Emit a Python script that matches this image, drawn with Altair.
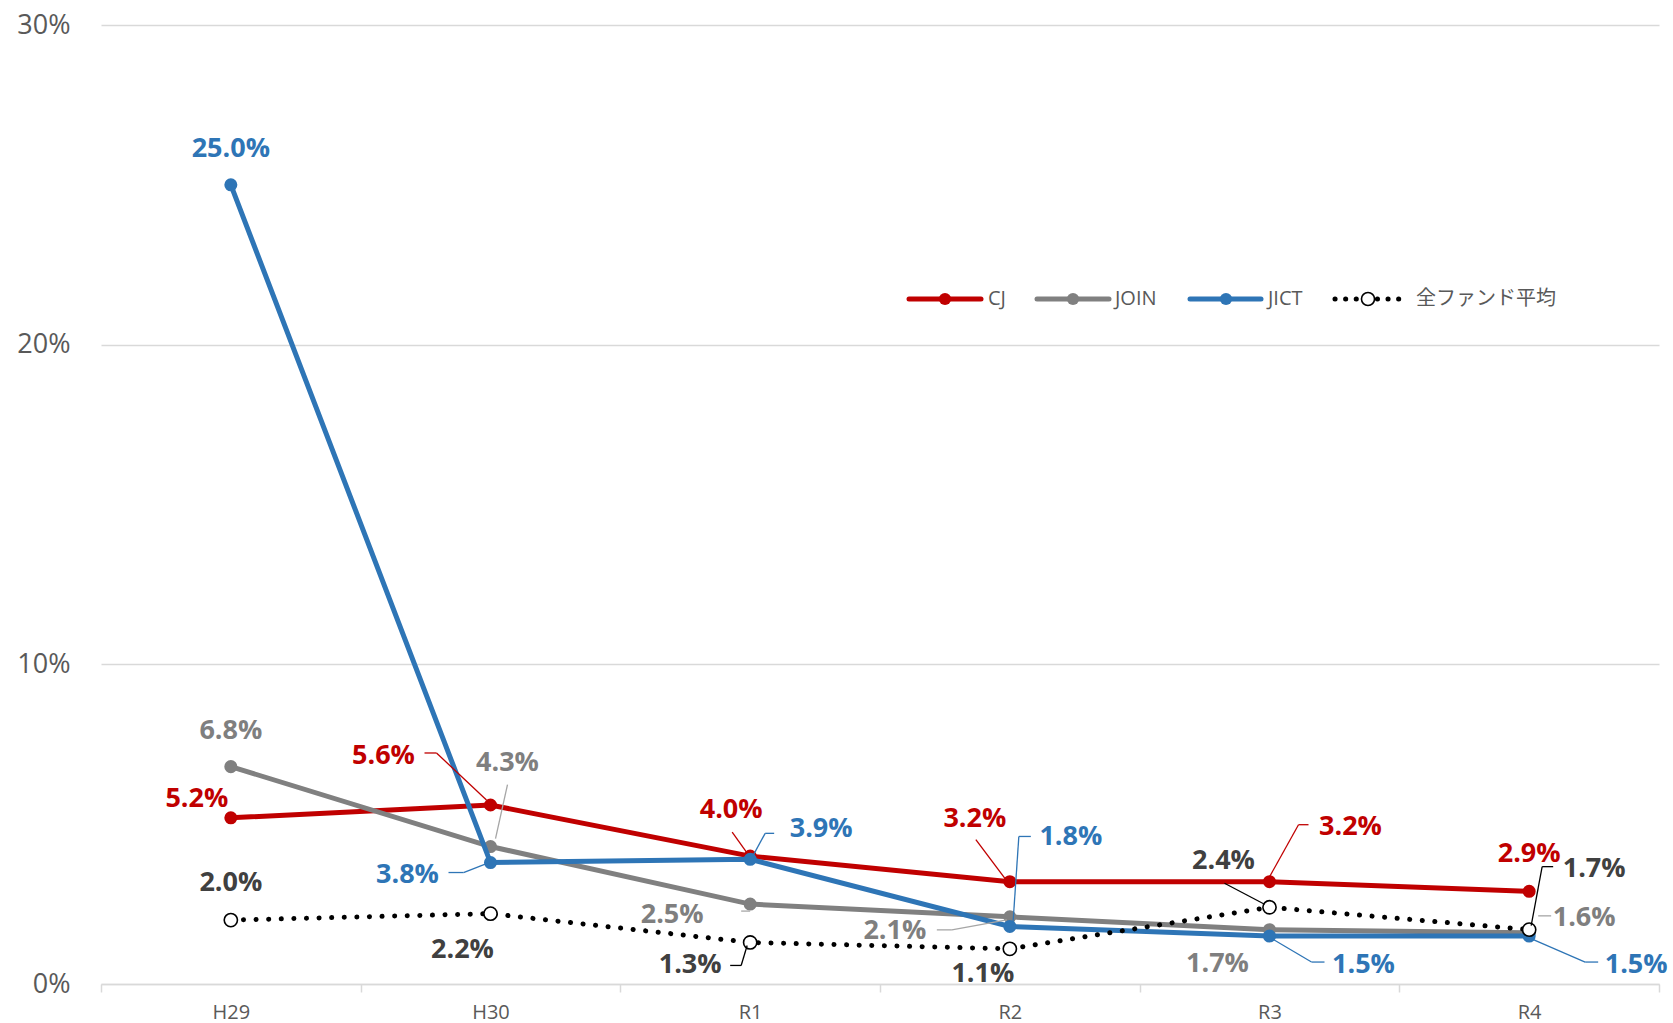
import altair as alt
import pandas as pd

# ---------------- data ----------------
CATEGORIES = ["H29", "H30", "R1", "R2", "R3", "R4"]
SERIES = ["CJ", "JOIN", "JICT", "全ファンド平均"]
CJ = [5.2, 5.6, 4.0, 3.2, 3.2, 2.9]
JOIN = [6.8, 4.3, 2.5, 2.1, 1.7, 1.6]
JICT = [25.0, 3.8, 3.9, 1.8, 1.5, 1.5]
AVG = [2.0, 2.2, 1.3, 1.1, 2.4, 1.7]
Y_TICKS = [0, 10, 20, 30]

VALUES = {"CJ": CJ, "JOIN": JOIN, "JICT": JICT, "全ファンド平均": AVG}

# ---------------- styling / layout ----------------
LINE_COLORS = {"CJ": "#C00000", "JOIN": "#808080", "JICT": "#2E75B6", "全ファンド平均": "#000000"}
LABEL_COLORS = {"CJ": "#C00000", "JOIN": "#7F7F7F", "JICT": "#2E75B6", "全ファンド平均": "#404040"}

# label offsets (pixels) from each point
LABEL_OFFSETS = {
    "CJ": [(-34, -19), (-107, -49), (-19, -46), (-35, -63), (81, -55), (0, -37)],
    "JOIN": [(0, -36), (17, -84), (-78, 11), (-115, 14), (-52, 34), (55, -15)],
    "JICT": [(0, -36), (-83, 12), (71, -30), (61, -89), (94, 29), (107, 29)],
    "全ファンド平均": [(0, -37), (-28, 36), (-60, 23), (-27, 25), (-46, -46), (65, -61)],
}

# leader lines: series, category index, polyline of pixel offsets from the point
LEADERS = [
    ("CJ", 1, [(-66, -52), (-54, -52), (-4, -5)]),
    ("JOIN", 1, [(17, -62), (5, -8)]),
    ("JICT", 1, [(-42, 10), (-27, 10), (-4, 1)]),
    ("CJ", 2, [(-18, -24), (-3, -3)]),
    ("JICT", 2, [(3, -4), (15, -26), (24, -26)]),
    ("全ファンド平均", 2, [(-20, 23), (-9, 23), (-3, 3)]),
    ("JOIN", 2, [(-9, 7), (0, 7)]),
    ("CJ", 3, [(-34, -42), (-4, -2)]),
    ("JICT", 3, [(21, -90), (9, -90), (3, -1)]),
    ("JOIN", 3, [(-73, 13), (-58, 13), (-3, 3)]),
    ("CJ", 4, [(-1, -3), (29, -57), (39, -57)]),
    ("全ファンド平均", 4, [(-45, -24), (-5, -3)]),
    ("JICT", 4, [(3, 3), (42, 26), (55, 26)]),
    ("JICT", 5, [(3, 3), (56, 26), (69, 26)]),
    ("全ファンド平均", 5, [(2, -4), (13, -63), (24, -63)]),
    ("JOIN", 5, [(9, -17), (22, -17)]),
]

PLOT_W, PLOT_H = 1558, 959
LABEL_FONT = "Open Sans, Liberation Sans, sans-serif"
CJK_FONT = "Noto Sans CJK JP, sans-serif"

rows = []
for s in SERIES:
    for c, v in zip(CATEGORIES, VALUES[s]):
        rows.append({"series": s, "cat": c, "value": v})
df = pd.DataFrame(rows)

X = alt.X(
    "cat:N",
    sort=CATEGORIES,
    scale=alt.Scale(type="band", paddingInner=0, paddingOuter=0),
    axis=alt.Axis(
        title=None, labelAngle=0, tickBand="extent", tickSize=8, tickColor="#D9D9D9",
        tickWidth=1.5, domainColor="#D9D9D9", domainWidth=1.5, grid=False,
        labelFont=LABEL_FONT, labelFontSize=20, labelColor="#595959",
        labelPadding=20, labelBaseline="middle", labelOffset=0,
    ),
)
Y = alt.Y(
    "value:Q",
    scale=alt.Scale(domain=[0, 30], nice=False),
    axis=alt.Axis(
        title=None, values=Y_TICKS, labelExpr="datum.value + '%'", domain=False, ticks=False,
        grid=True, gridColor="#D9D9D9", gridWidth=1.3,
        labelFont=LABEL_FONT, labelFontSize=27, labelColor="#595959", labelPadding=31,
    ),
)

base = alt.Chart(df)
layers = []

# lines and markers
for s in SERIES:
    sub = base.transform_filter(alt.datum.series == s)
    if s == "全ファンド平均":
        layers.append(sub.mark_line(color="#000000", strokeWidth=5, strokeDash=[0.1, 12.5],
                                    strokeCap="round").encode(x=X, y=Y))
        layers.append(sub.mark_point(shape="circle", filled=False, fill="white", stroke="black",
                                     strokeWidth=1.6, size=175, opacity=1).encode(x=X, y=Y))
    else:
        layers.append(sub.mark_line(color=LINE_COLORS[s], strokeWidth=5).encode(x=X, y=Y))
        layers.append(sub.mark_point(shape="circle", filled=True, color=LINE_COLORS[s],
                                     size=170, opacity=1).encode(x=X, y=Y))

# leader lines
for s, idx, pts in LEADERS:
    sub = base.transform_filter((alt.datum.series == s) & (alt.datum.cat == CATEGORIES[idx]))
    for (x1, y1), (x2, y2) in zip(pts[:-1], pts[1:]):
        layers.append(
            sub.mark_rule(color=LINE_COLORS[s] if s != "JOIN" else "#A6A6A6", strokeWidth=1.3,
                          xOffset=x1, yOffset=y1, x2Offset=x2, y2Offset=y2).encode(
                x=alt.X("cat:N", sort=CATEGORIES, bandPosition=0.5),
                x2=alt.X2("cat:N", bandPosition=0.5),
                y=alt.Y("value:Q"),
                y2=alt.Y2("value:Q"),
            )
        )

# data labels
for s in SERIES:
    for i, c in enumerate(CATEGORIES):
        dx, dy = LABEL_OFFSETS[s][i]
        sub = base.transform_filter((alt.datum.series == s) & (alt.datum.cat == c)).transform_calculate(
            label="format(datum.value, '.1f') + '%'"
        )
        layers.append(
            sub.mark_text(font=LABEL_FONT, fontSize=27, fontWeight="bold", color=LABEL_COLORS[s],
                          align="center", baseline="middle", dx=dx, dy=dy).encode(
                x=X, y=Y, text="label:N")
        )

# legend (manual, drawn in pixel space of the plot area)
LEGEND_Y = 274
LEGEND_ITEMS = [
    ("CJ", 808, 880, 844, 887),
    ("JOIN", 936, 1008, 972, 1014),
    ("JICT", 1089, 1160, 1125, 1167),
    ("全ファンド平均", 1234, 1300, 1267, 1315),
]
leg_src = alt.Chart(pd.DataFrame({"k": [0]}))
for s, xa, xb, xp, xt in LEGEND_ITEMS:
    if s == "全ファンド平均":
        layers.append(leg_src.mark_rule(color="#000000", strokeWidth=5, strokeDash=[0.1, 10.5],
                                        strokeCap="round").encode(
            x=alt.value(xa), x2=alt.value(xb), y=alt.value(LEGEND_Y), y2=alt.value(LEGEND_Y)))
        layers.append(leg_src.mark_point(shape="circle", filled=False, fill="white", stroke="black",
                                         strokeWidth=1.6, size=170, opacity=1).encode(
            x=alt.value(xp), y=alt.value(LEGEND_Y)))
        font = CJK_FONT
    else:
        layers.append(leg_src.mark_rule(color=LINE_COLORS[s], strokeWidth=5, strokeCap="round").encode(
            x=alt.value(xa), x2=alt.value(xb), y=alt.value(LEGEND_Y), y2=alt.value(LEGEND_Y)))
        layers.append(leg_src.mark_point(shape="circle", filled=True, color=LINE_COLORS[s],
                                         size=150, opacity=1).encode(
            x=alt.value(xp), y=alt.value(LEGEND_Y)))
        font = LABEL_FONT
    layers.append(leg_src.mark_text(font=font, fontSize=20, color="#595959", align="left",
                                    baseline="middle", text=s).encode(
        x=alt.value(xt), y=alt.value(LEGEND_Y)))

chart = alt.layer(*layers).properties(
    width=PLOT_W,
    height=PLOT_H,
    padding={"left": 101, "top": 25, "right": 14, "bottom": 39},
    autosize=alt.AutoSizeParams(type="none"),
    background="white",
).configure_view(stroke=None)

chart.save("out.html", embed_options={"renderer": "svg", "actions": False})
